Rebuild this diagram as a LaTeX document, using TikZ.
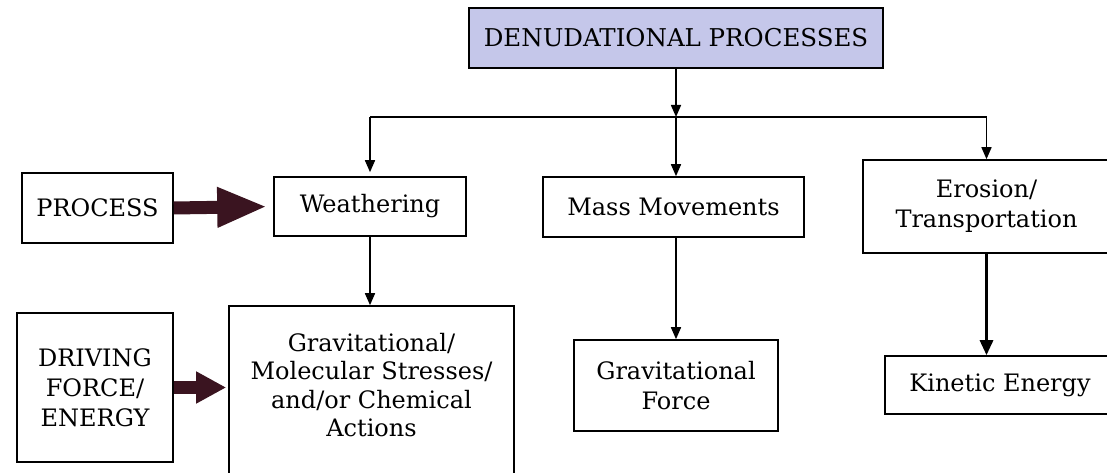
\documentclass[tikz,border=0pt]{standalone}
\usepackage{fontspec}
\setmainfont{DejaVu Serif}
\usetikzlibrary{arrows.meta}
\definecolor{headfill}{HTML}{C5C7EA}
\definecolor{arrowdark}{HTML}{3A1420}
\begin{document}
\begin{tikzpicture}[x=1pt,y=1pt,
  box/.style={draw,line width=1.6pt,align=center,inner sep=0pt,
    font=\fontsize{24}{30}\selectfont},
  link/.style={line width=1.6pt,-{Triangle[length=12pt,width=10pt]}},
  bigarrow/.style={draw=arrowdark,line width=13pt}]
\clip (0,0) rectangle (1107,473); % page size of the reference
% top of the tree
\node[box,fill=headfill,minimum width=414,minimum height=60,
  font=\fontsize{24.5}{30}\selectfont] (top) at (676,435) {DENUDATIONAL PROCESSES};
\node[box,minimum width=151,minimum height=70] (proc) at (97.5,265) {PROCESS};
\node[box,minimum width=192,minimum height=59] (weath) at (370,266.5) {Weathering};
\node[box,minimum width=261,minimum height=60] (mass) at (673.5,266) {Mass Movements};
\node[box,minimum width=247,minimum height=93] (eros) at (986.5,266.5) {Erosion/\\Transportation};
% lower row
\node[box,minimum width=156,minimum height=149] (drive) at (95,85.5) {DRIVING\\FORCE/\\ENERGY};
\node[box,minimum width=285,minimum height=194] (gravbox) at (371.5,70) {};
\node[align=center,font=\fontsize{24}{28.5}\selectfont] (gravtext) at (371.5,88)
  {Gravitational/\\Molecular Stresses/\\and/or Chemical\\Actions};
\node[box,minimum width=204,minimum height=91] (gforce) at (676,87.5) {Gravitational\\Force};
\node[box,minimum width=230,minimum height=58] (kin) at (1000,88) {Kinetic Energy};
\coordinate (bus) at (676,356);
% connectors
\draw[link] (top.south) -- (bus);
\draw[line width=1.6pt] (weath.north |- bus) -- (eros.north |- bus);
\draw[link,shorten >=4pt] (weath.north |- bus) -- (weath.north);
\draw[link] (bus) -- (top.south |- mass.north);
\draw[link] (eros.north |- bus) -- (eros.north);
\draw[link] (weath.south) -- (weath.south |- gravbox.north);
\draw[link] (gforce.north |- mass.south) -- (gforce.north);
\draw[line width=3pt,-{Triangle[length=15pt,width=13pt]}] (eros.south) -- (eros.south |- kin.north);
\draw[bigarrow,-{Triangle[length=50pt,width=37pt]},shorten >=6pt] (proc.east) -- (weath.west);
\draw[bigarrow,-{Triangle[length=30pt,width=30pt]},shorten >=2pt] (drive.east) -- (drive.east -| gravbox.west);
\end{tikzpicture}
\end{document}
